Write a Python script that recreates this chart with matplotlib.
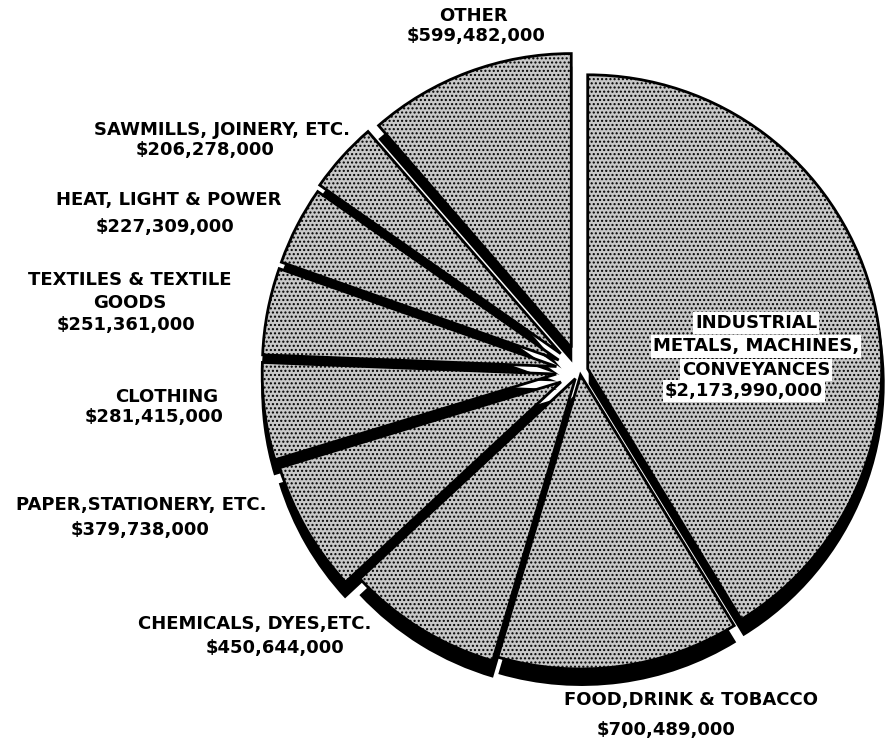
import numpy as np
import matplotlib.pyplot as plt

# value added by industry group (dollars)
sectors = [
    "INDUSTRIAL\nMETALS, MACHINES,\nCONVEYANCES",
    "FOOD,DRINK & TOBACCO",
    "CHEMICALS, DYES,ETC.",
    "PAPER,STATIONERY, ETC.",
    "CLOTHING",
    "TEXTILES & TEXTILE\nGOODS",
    "HEAT, LIGHT & POWER",
    "SAWMILLS, JOINERY, ETC.",
    "OTHER",
]
values = [2173990000, 700489000, 450644000, 379738000, 281415000,
          251361000, 227309000, 206278000, 599482000]

# layout (pixels, y measured from top)
W, H = 885, 743
center = (580, 372)
radius = 294
explode = [8, 4, 9, 22, 24, 24, 24, 26, 25]
shadow_off = (1, -15)
name_pos = [(756, 323), (691, 700), (255, 624), (141, 505), (167, 397),
            (130, 280), (169, 200), (222, 130), (473, 16)]
amount_pos = [(744, 391), (666, 730), (275, 648), (140, 530), (154, 417),
              (126, 325), (165, 227), (205, 150), (476, 36)]
line_pitch = 23.5

fig = plt.figure(figsize=(W / 100, H / 100), dpi=100)
ax = fig.add_axes([0, 0, 1, 1])

# black shadow pie, then the stippled pie on top
ax.pie(values, explode=explode, radius=radius + 2,
       center=(center[0] + shadow_off[0], center[1] + shadow_off[1]),
       startangle=90, counterclock=False, colors=["black"] * len(values),
       wedgeprops=dict(linewidth=0))
ax.pie(values, explode=explode, radius=radius, center=center,
       startangle=90, counterclock=False, colors=["#c8c8c8"] * len(values),
       wedgeprops=dict(edgecolor="black", linewidth=2, hatch="...."))

ax.set_xlim(0, W)
ax.set_ylim(0, H)
ax.set_aspect("equal")
ax.axis("off")

font = dict(family="DejaVu Sans", fontweight="bold", fontsize=13,
            ha="center", va="center", color="black")
for i, name in enumerate(sectors):
    box = dict(fc="white", ec="none", pad=1.5) if i == 0 else None
    nx, ny = name_pos[i]
    for j, line in enumerate(name.split("\n")):
        ax.text(nx, H - (ny + j * line_pitch), line, bbox=box, **font)
    mx, my = amount_pos[i]
    ax.text(mx, H - my, "$" + f"{values[i]:,}", bbox=box, **font)

plt.savefig("out.png", dpi=100)
